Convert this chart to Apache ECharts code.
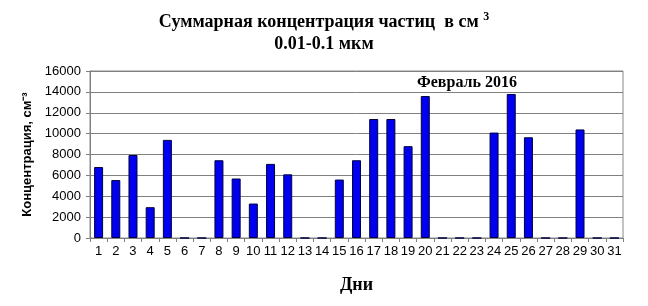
<!DOCTYPE html>
<html>
<head>
<meta charset="utf-8">
<script src="https://cdn.jsdelivr.net/npm/echarts@6/dist/echarts.min.js"></script>
<style>
html,body{margin:0;padding:0;background:#fff;}
#c{width:648px;height:306px;}
</style>
</head>
<body>
<div id="c"></div>
<script>
const days = ['1','2','3','4','5','6','7','8','9','10','11','12','13','14','15','16','17','18','19','20','21','22','23','24','25','26','27','28','29','30','31'];
const concentration = [6800,5550,7950,2950,9400,0,0,7450,5700,3300,7100,6100,0,0,5600,7450,11400,11400,8800,13600,0,0,0,10100,13800,9650,0,0,10400,0,0];
const yTicks = {min:0, max:16000, interval:2000};
const titleLine1 = 'Суммарная концентрация частиц  в см ';
const titleSup = '3';
const titleLine2 = '0.01-0.1 мкм';
const yName = 'Концентрация, см⁻³';
const xName = 'Дни';
const note = 'Февраль 2016';

const chart = echarts.init(document.getElementById('c'), null, {renderer:'canvas'});
chart.setOption({
  animation:false,
  backgroundColor:'#fff',
  title:{
    text:'{a|'+titleLine1+'}{s|'+titleSup+'}\n{a|'+titleLine2+'}',
    left:'center', top:6,
    textStyle:{
      rich:{
        a:{fontFamily:'Liberation Serif',fontWeight:'bold',fontSize:18,color:'#000',lineHeight:22},
        s:{fontFamily:'Liberation Serif',fontWeight:'bold',fontSize:12,color:'#000',verticalAlign:'top',lineHeight:22,padding:[0,0,8,0]}
      }
    }
  },
  graphic:[{
    type:'text', left:417, top:75,
    style:{text:note, fontFamily:'Liberation Serif', fontWeight:'bold', fontSize:16, fill:'#000'}
  }],
  grid:{left:90, right:25, top:71, bottom:68, show:true, borderColor:'#888', borderWidth:1},
  xAxis:{
    type:'category', data:days,
    name:xName, nameLocation:'middle', nameGap:38,
    nameTextStyle:{fontFamily:'Liberation Serif',fontWeight:'bold',fontSize:18,color:'#000'},
    axisLine:{lineStyle:{color:'#808080',width:1}},
    axisTick:{show:true, alignWithLabel:false, length:4, lineStyle:{color:'#808080'}},
    axisLabel:{interval:0, fontFamily:'Liberation Sans', fontSize:13, color:'#000', margin:7}
  },
  yAxis:{
    type:'value', min:yTicks.min, max:yTicks.max, interval:yTicks.interval,
    name:yName, nameLocation:'middle', nameGap:55, nameRotate:90,
    nameTextStyle:{fontFamily:'Liberation Sans',fontWeight:'bold',fontSize:13,color:'#000'},
    axisLine:{show:true, lineStyle:{color:'#808080',width:1}},
    axisTick:{show:true, length:4, lineStyle:{color:'#808080'}},
    axisLabel:{fontFamily:'Liberation Sans', fontSize:13, color:'#000', margin:9, formatter:function(v){return String(v);}},
    splitLine:{show:true, lineStyle:{color:'#808080',width:1}}
  },
  series:[{
    type:'bar', data:concentration, barWidth:9,
    itemStyle:{color:'#0000ee', borderColor:'#000040', borderWidth:1}
  }]
});
</script>
</body>
</html>
